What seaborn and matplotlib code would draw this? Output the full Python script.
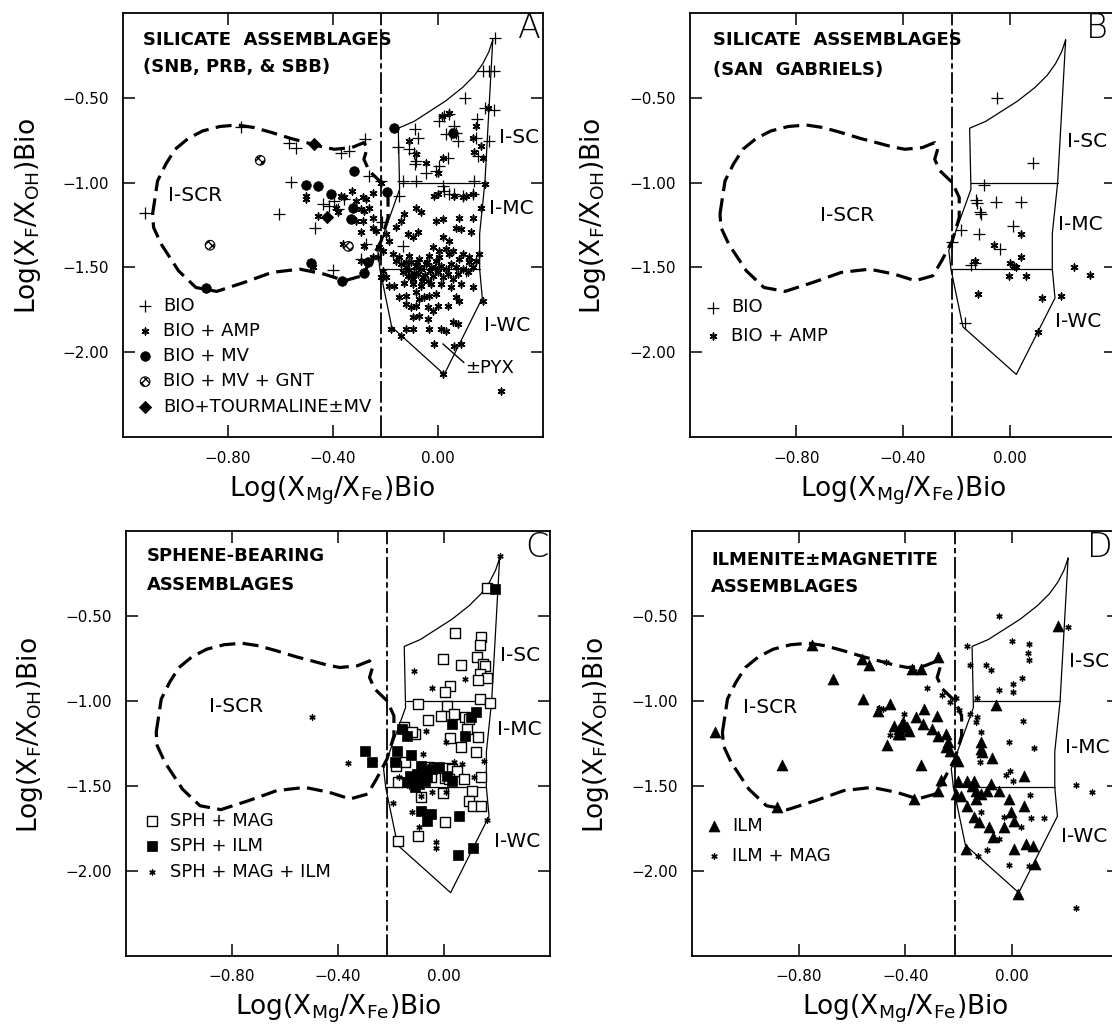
import matplotlib
matplotlib.use("Agg")
import matplotlib.pyplot as plt
import seaborn as sns
import numpy as np

sns.set_style("ticks")
plt.rcParams["font.family"] = ["DejaVu Sans"]
plt.rcParams["mathtext.fontset"] = "dejavusans"
plt.rcParams["text.color"] = "black"
plt.rcParams["axes.labelcolor"] = "black"
plt.rcParams["xtick.color"] = "black"
plt.rcParams["ytick.color"] = "black"

# ---------------- axes / tick data ----------------
x_ticks = [-0.80, -0.40, 0.00]
x_ticklabels = ["\u22120.80", "\u22120.40", "0.00"]
y_ticks = [-0.50, -1.00, -1.50, -2.00]
y_ticklabels = ["\u22120.50", "\u22121.00", "\u22121.50", "\u22122.00"]
x_label = r"Log(X$_{\mathregular{Mg}}$/X$_{\mathregular{Fe}}$)Bio"
y_label = r"Log(X$_{\mathregular{F}}$/X$_{\mathregular{OH}}$)Bio"

# ---------------- field boundaries ----------------
scr_x = [-1.086, -1.067, -1.035, -1.000, -0.950, -0.895, -0.830, -0.763, -0.700, -0.631, -0.560,
         -0.499, -0.440, -0.393, -0.327, -0.281, -0.268, -0.281, -0.261, -0.215, -0.189, -0.189,
         -0.215, -0.255, -0.288, -0.354, -0.433, -0.525, -0.631, -0.737, -0.842, -0.921, -0.987,
         -1.053, -1.082, -1.086]
scr_y = [-1.186, -0.990, -0.890, -0.804, -0.740, -0.696, -0.670, -0.661, -0.676, -0.706, -0.740,
         -0.765, -0.790, -0.804, -0.794, -0.765, -0.794, -0.863, -0.931, -1.000, -1.088, -1.206,
         -1.343, -1.461, -1.549, -1.578, -1.539, -1.510, -1.529, -1.588, -1.641, -1.618, -1.520,
         -1.363, -1.265, -1.186]

field_x = [0.210, 0.180, 0.160, 0.160, 0.170, 0.025, -0.175, -0.220, -0.228, -0.145, -0.150,
           -0.090, -0.030, 0.030, 0.095, 0.140, 0.172, 0.195, 0.210]
field_y = [-0.160, -1.000, -1.300, -1.510, -1.680, -2.130, -1.850, -1.510, -1.400, -1.040, -0.680,
           -0.640, -0.580, -0.520, -0.440, -0.370, -0.300, -0.230, -0.160]
div_mc_x = [-0.145, 0.180]
div_mc_y = [-1.000, -1.000]
div_wc_x = [-0.220, 0.160]
div_wc_y = [-1.510, -1.510]
divide_x = -0.215
pyx_x = [0.020, 0.100]
pyx_y = [-1.950, -2.060]

# ---------------- panel A data ----------------
A_bio = [(-1.114, -1.180), (-0.749, -0.671), (-0.568, -0.765), (-0.540, -0.794), (-0.368, -0.824),
         (-0.337, -0.814), (-0.276, -0.745), (-0.559, -0.994), (-0.606, -1.186), (-0.466, -1.265),
         (-0.438, -1.127), (-0.413, -1.137), (-0.394, -1.108), (-0.381, -1.157), (-0.356, -1.098),
         (-0.400, -1.516), (-0.260, -0.961), (-0.216, -0.990), (-0.213, -1.235), (-0.273, -1.363),
         (-0.292, -1.451), (0.220, -0.151), (0.171, -0.343), (0.197, -0.343), (0.216, -0.343),
         (0.105, -0.500), (0.182, -0.559), (0.216, -0.575), (0.006, -0.637), (0.025, -0.608),
         (0.044, -0.598), (0.150, -0.627), (0.051, -0.716), (0.070, -0.706), (0.063, -0.667),
         (0.076, -0.755), (0.032, -0.716), (0.146, -0.735), (0.197, -0.755), (-0.086, -0.686),
         (-0.076, -0.735), (-0.152, -0.790), (-0.108, -0.804), (-0.089, -0.824), (-0.083, -0.873),
         (-0.085, -0.892), (0.038, -0.853), (0.006, -0.902), (-0.006, -0.931), (-0.044, -0.941),
         (0.152, -0.843), (-0.133, -0.990), (-0.083, -0.990), (0.019, -1.020), (0.025, -1.050),
         (0.140, -0.990), (-0.149, -1.078), (0.044, -1.069), (0.063, -1.069), (0.095, -1.078),
         (0.133, -1.069), (-0.133, -1.373), (0.108, -1.520)]
A_amp = [(-0.368, -1.078), (-0.355, -1.088), (-0.326, -1.049), (-0.286, -1.088), (-0.273, -1.098),
         (-0.248, -1.059), (-0.311, -1.108), (-0.292, -1.157), (-0.279, -1.167), (-0.260, -1.147),
         (-0.457, -1.196), (-0.387, -1.147), (-0.381, -1.176), (-0.311, -1.225), (-0.286, -1.225),
         (-0.248, -1.206), (-0.292, -1.294), (-0.248, -1.265), (-0.235, -1.284), (-0.279, -1.372),
         (-0.222, -1.382), (-0.248, -1.441), (-0.229, -1.441), (-0.292, -1.461), (-0.501, -1.078),
         (-0.501, -1.098), (-0.476, -1.500), (-0.362, -1.363), (-0.216, -1.000), (-0.210, -1.520),
         (-0.210, -1.559),
         (0.016, -0.608), (0.044, -0.588), (0.191, -0.559), (0.146, -0.666), (0.133, -0.735),
         (0.165, -0.784), (0.172, -0.853), (-0.108, -0.755), (-0.045, -0.882), (0.019, -0.853),
         (0.000, -0.941), (0.140, -0.823), (-0.082, -0.833),
         (-0.013, -1.078), (0.000, -1.068), (0.063, -1.078), (0.095, -1.088), (0.108, -1.078),
         (0.133, -1.068), (-0.082, -1.147), (-0.063, -1.176), (-0.006, -1.225), (0.019, -1.216),
         (0.082, -1.206), (0.133, -1.206), (0.070, -1.265), (0.089, -1.274), (0.127, -1.294),
         (0.165, -1.147), (-0.140, -1.225), (-0.159, -1.264), (-0.127, -1.186), (-0.114, -1.304),
         (-0.095, -1.323), (-0.076, -1.294), (0.019, -1.323), (0.044, -1.343), (-0.019, -1.382),
         (0.006, -1.402), (0.032, -1.392), (0.057, -1.402), (0.095, -1.421), (0.121, -1.441),
         (0.146, -1.461), (-0.197, -1.304), (-0.184, -1.343), (-0.210, -1.402), (-0.171, -1.421),
         (0.181, -1.006), (0.156, -1.420),
         (-0.159, -1.461), (-0.140, -1.480), (-0.121, -1.500), (-0.102, -1.470), (-0.083, -1.490),
         (-0.064, -1.510), (-0.045, -1.480), (-0.026, -1.500), (-0.006, -1.461), (0.013, -1.490),
         (0.032, -1.510), (0.051, -1.480), (0.070, -1.500), (-0.133, -1.529), (-0.114, -1.549),
         (-0.095, -1.568), (-0.076, -1.539), (-0.057, -1.559), (-0.038, -1.578), (-0.019, -1.549),
         (0.000, -1.529), (0.019, -1.559), (0.038, -1.539), (0.057, -1.568), (0.076, -1.539),
         (0.095, -1.510), (0.114, -1.529), (0.133, -1.500), (-0.146, -1.441), (-0.108, -1.431),
         (-0.070, -1.451), (-0.032, -1.431), (0.006, -1.441), (0.044, -1.421), (0.082, -1.451),
         (0.120, -1.470), (-0.095, -1.598), (-0.064, -1.608), (-0.026, -1.598), (0.013, -1.598),
         (0.051, -1.617), (0.089, -1.598), (-0.110, -1.515), (-0.090, -1.530), (-0.070, -1.495),
         (-0.050, -1.545), (-0.100, -1.555), (-0.120, -1.470), (-0.080, -1.465), (-0.060, -1.580),
         (-0.030, -1.520), (-0.010, -1.505), (-0.130, -1.590), (-0.040, -1.465),
         (-0.216, -1.559), (-0.197, -1.559), (-0.184, -1.608), (-0.165, -1.608), (-0.146, -1.676),
         (-0.121, -1.666), (-0.083, -1.647), (-0.070, -1.686), (-0.051, -1.676), (-0.032, -1.666),
         (-0.006, -1.656), (-0.121, -1.716), (-0.102, -1.735), (-0.083, -1.725), (-0.038, -1.735),
         (-0.019, -1.755), (0.000, -1.725), (0.038, -1.725), (0.070, -1.676), (0.082, -1.696),
         (0.133, -1.617), (0.171, -1.696), (-0.095, -1.794), (-0.070, -1.784), (-0.038, -1.804),
         (-0.178, -1.862), (-0.121, -1.862), (-0.095, -1.862), (-0.032, -1.862), (0.013, -1.862),
         (0.032, -1.872), (0.057, -1.823), (0.076, -1.833), (-0.013, -1.951), (0.063, -1.960),
         (0.089, -1.951), (0.019, -2.127), (-0.140, -1.902), (0.241, -2.225)]
A_mv = [(-0.165, -0.676), (-0.320, -0.931), (-0.502, -1.014), (-0.455, -1.020), (-0.406, -1.069),
        (-0.324, -1.147), (-0.330, -1.216), (-0.194, -1.053), (-0.483, -1.471), (-0.366, -1.578),
        (-0.279, -1.535), (-0.267, -1.465), (-0.883, -1.622), (0.060, -0.706)]
A_gnt = [(-0.676, -0.869), (-0.867, -1.369), (-0.340, -1.376)]
A_tour = [(-0.470, -0.775), (-0.422, -1.202)]

# ---------------- panel B data ----------------
B_bio = [(-0.046, -0.504), (0.088, -0.886), (-0.096, -1.016), (-0.125, -1.102), (-0.123, -1.118),
         (-0.053, -1.114), (0.042, -1.114), (-0.110, -1.176), (-0.106, -1.186), (0.013, -1.255),
         (-0.182, -1.280), (-0.116, -1.304), (-0.037, -1.392), (-0.215, -1.353), (-0.143, -1.484),
         (-0.129, -1.471), (-0.169, -1.829)]
B_amp = [(0.042, -1.304), (-0.057, -1.369), (0.042, -1.441), (0.000, -1.471), (0.016, -1.490),
         (0.022, -1.496), (-0.004, -1.549), (0.062, -1.549), (-0.120, -1.657), (0.121, -1.682),
         (0.194, -1.667), (0.106, -1.878), (0.240, -1.500), (0.300, -1.543), (-0.129, -1.461)]

# ---------------- panel C data ----------------
C_mag = [(0.163, -0.337), (0.041, -0.598), (0.138, -0.627), (0.135, -0.673), (-0.003, -0.755),
         (0.066, -0.789), (0.125, -0.741), (0.147, -0.784), (0.154, -0.794), (0.134, -0.843),
         (0.163, -0.863), (0.128, -0.878), (0.021, -0.912), (0.003, -0.947), (0.135, -0.990),
         (0.172, -1.016), (-0.098, -1.020), (0.013, -1.029), (-0.013, -1.088), (-0.059, -1.112),
         (0.038, -1.075), (0.081, -1.094), (0.096, -1.108), (0.088, -1.167), (0.128, -1.216),
         (0.021, -1.221), (0.066, -1.275), (0.119, -1.300), (-0.109, -1.196), (-0.147, -1.363),
         (-0.056, -1.392), (-0.038, -1.398), (0.016, -1.396), (0.031, -1.402), (0.050, -1.412),
         (-0.125, -1.461), (-0.048, -1.451), (0.003, -1.457), (0.019, -1.461), (0.075, -1.463),
         (0.140, -1.451), (0.104, -1.529), (-0.003, -1.543), (-0.088, -1.569), (0.096, -1.588),
         (0.109, -1.621), (0.138, -1.621), (0.004, -1.716), (-0.098, -1.794), (-0.172, -1.824),
         (-0.150, -1.157), (-0.119, -1.186), (-0.182, -1.382), (-0.175, -1.480)]
C_ilm = [(0.194, -0.339), (0.119, -1.069), (0.103, -1.098), (0.031, -1.137), (0.079, -1.206),
         (-0.157, -1.167), (-0.138, -1.206), (-0.178, -1.294), (-0.185, -1.363), (-0.125, -1.320),
         (-0.298, -1.294), (-0.272, -1.363), (-0.088, -1.382), (-0.075, -1.412), (-0.084, -1.441),
         (-0.113, -1.471), (-0.094, -1.490), (-0.063, -1.451), (-0.044, -1.402), (-0.019, -1.392),
         (0.013, -1.441), (0.031, -1.471), (-0.088, -1.647), (-0.050, -1.667), (-0.063, -1.706),
         (0.056, -1.676), (0.109, -1.869), (0.054, -1.908), (-0.138, -1.480), (-0.100, -1.430),
         (-0.070, -1.470), (-0.110, -1.510), (-0.130, -1.440)]
C_both = [(0.211, -0.147), (-0.113, -0.824), (0.081, -0.873), (-0.044, -0.927), (-0.497, -1.098),
          (-0.363, -1.369), (-0.069, -1.180), (0.009, -1.245), (0.150, -1.353), (0.113, -1.451),
          (-0.194, -1.602), (-0.119, -1.653), (0.163, -1.700), (-0.031, -1.829), (-0.031, -1.869),
          (-0.169, -1.451), (-0.132, -1.500), (0.069, -1.373), (-0.044, -1.539), (-0.088, -1.559),
          (0.006, -1.539), (0.038, -1.363), (-0.096, -1.745), (-0.079, -1.314)]

# ---------------- panel D data ----------------
D_ilm = [(-1.112, -1.186), (-0.880, -1.627), (-0.750, -0.673), (-0.671, -0.869), (-0.863, -1.376),
         (-0.564, -0.755), (-0.537, -0.788), (-0.558, -0.990), (-0.504, -1.063), (-0.457, -1.020),
         (-0.468, -1.261), (-0.375, -0.810), (-0.342, -0.810), (-0.279, -0.745), (-0.342, -1.376),
         (-0.368, -1.578), (-0.278, -1.529), (-0.268, -1.467), (-0.441, -1.147), (-0.424, -1.167),
         (-0.408, -1.127), (-0.395, -1.157), (-0.428, -1.196), (-0.388, -1.176), (-0.362, -1.098),
         (-0.335, -1.137), (-0.329, -1.049), (-0.302, -1.167), (-0.282, -1.088), (-0.279, -1.206),
         (-0.249, -1.196), (-0.242, -1.245), (-0.249, -1.275), (-0.231, -1.294), (-0.209, -1.343),
         (-0.202, -1.353), (-0.414, -1.137), (-0.420, -1.196),
         (0.172, -0.559), (-0.061, -1.025), (-0.115, -1.245), (-0.115, -1.284), (-0.111, -1.304),
         (-0.074, -1.339), (-0.203, -1.471), (-0.168, -1.471), (-0.143, -1.471), (-0.149, -1.500),
         (-0.137, -1.529), (-0.118, -1.549), (-0.093, -1.529), (-0.080, -1.490), (-0.049, -1.529),
         (-0.212, -1.549), (-0.193, -1.559), (-0.168, -1.618), (-0.137, -1.578), (-0.011, -1.578),
         (0.046, -1.441), (0.046, -1.618), (-0.143, -1.686), (-0.124, -1.716), (-0.086, -1.745),
         (-0.070, -1.804), (-0.030, -1.745), (-0.005, -1.657), (0.008, -1.706), (0.008, -1.873),
         (0.052, -1.843), (0.077, -1.853), (0.086, -1.961), (-0.174, -1.873), (0.021, -2.137)]
D_mag = [(-0.048, -0.500), (-0.168, -0.676), (-0.001, -0.647), (0.062, -0.663), (0.058, -0.720),
         (0.065, -0.761), (-0.156, -0.788), (-0.099, -0.790), (-0.078, -0.820), (0.037, -0.863),
         (0.002, -0.902), (0.002, -0.951), (-0.048, -0.937), (-0.130, -0.984), (-0.156, -1.078),
         (-0.130, -1.098), (-0.137, -1.127), (0.040, -1.118), (-0.013, -1.241), (0.081, -1.278),
         (-0.118, -1.186), (-0.120, -1.363), (-0.023, -1.435), (-0.008, -1.412), (0.002, -1.471),
         (0.067, -1.555), (0.071, -1.692), (0.119, -1.692), (-0.118, -1.657), (-0.030, -1.686),
         (0.033, -1.745), (-0.093, -1.878), (-0.127, -1.912), (-0.011, -1.965), (0.065, -1.971),
         (-0.048, -1.814), (-0.473, -0.771), (-0.367, -0.822), (-0.319, -0.927), (-0.263, -0.967),
         (-0.231, -1.006), (-0.212, -0.982), (-0.199, -1.055), (-0.498, -1.045), (-0.483, -1.049),
         (-0.407, -1.078), (-0.458, -1.202), (0.210, -0.565), (0.239, -1.496), (0.300, -1.535),
         (0.239, -2.220)]

# ---------------- styles ----------------
PLUS = dict(marker="+", s=75, color="black", linewidth=0.9)
STAR = dict(marker=(6, 2, 0), s=24, color="black", linewidth=1.1)
SMALLSTAR = dict(marker=(6, 2, 0), s=14, color="black", linewidth=1.0)
CIRC = dict(marker="o", s=48, color="black", edgecolor="black", linewidth=0.5)
GNT = dict(marker="o", s=48, color="white", edgecolor="black", hatch="xxxx", linewidth=0.8)
DIAM = dict(marker="D", s=40, color="black", edgecolor="black", linewidth=0.5)
SQ_OPEN = dict(marker="s", s=50, color="white", edgecolor="black", linewidth=1.0)
SQ_FILL = dict(marker="s", s=50, color="black", edgecolor="black", linewidth=0.5)
TRI = dict(marker="^", s=62, color="black", edgecolor="black", linewidth=0.5)

fig = plt.figure(figsize=(11.12, 10.26), dpi=100)
axA = fig.add_axes([0.1103, 0.5738, 0.3777, 0.4138])
axB = fig.add_axes([0.6201, 0.5738, 0.3838, 0.4138])
axC = fig.add_axes([0.1133, 0.0687, 0.3813, 0.4138])
axD = fig.add_axes([0.6223, 0.0687, 0.3838, 0.4138])


def scatter(ax, pairs, label, style):
    arr = np.array(pairs, dtype=float)
    sns.scatterplot(x=arr[:, 0], y=arr[:, 1], ax=ax, label=label, legend=False, zorder=3, **style)


def setup(ax, letter, letter_x, title1, title2, tpos, labels):
    ax.set_xlim(-1.2, 0.4)
    ax.set_ylim(-2.5, 0.0)
    ax.set_xticks(x_ticks)
    ax.set_xticklabels(x_ticklabels)
    ax.set_yticks(y_ticks)
    ax.set_yticklabels(y_ticklabels)
    ax.tick_params(direction="in", length=8.5, width=1.1, top=True, right=True,
                   labelsize=11, pad=10, color="black", labelcolor="black")
    for sp in ax.spines.values():
        sp.set_visible(True)
        sp.set_linewidth(1.3)
        sp.set_color("black")
    ax.set_xlabel(x_label, fontsize=19, color="black")
    ax.set_ylabel(y_label, fontsize=19, color="black")
    ax.xaxis.set_label_coords(0.5, -0.088)
    ax.yaxis.set_label_coords(-0.19, 0.52)
    # boundaries
    ax.plot(scr_x, scr_y, color="black", lw=2.3, linestyle=(0, (5, 2.3)), zorder=2)
    ax.plot(field_x, field_y, color="black", lw=0.9, zorder=2)
    ax.plot(div_mc_x, div_mc_y, color="black", lw=0.9, zorder=2)
    ax.plot(div_wc_x, div_wc_y, color="black", lw=0.9, zorder=2)
    ax.axvline(divide_x, color="black", lw=1.3, linestyle=(0, (12, 2, 3, 2)), zorder=2)
    # texts
    ax.text(letter_x, 0.962, letter, transform=ax.transAxes, fontsize=24, ha="center",
            va="center", fontweight="light", color="black")
    ax.text(tpos[0], tpos[1], title1, transform=ax.transAxes, fontsize=13, fontweight="bold",
            ha="left", va="center", color="black")
    ax.text(tpos[0], tpos[2], title2, transform=ax.transAxes, fontsize=13, fontweight="bold",
            ha="left", va="center", color="black")
    for (txt, x, y, ha) in labels:
        ax.text(x, y, txt, fontsize=14.5, ha=ha, va="center", color="black")


def legend(ax, x0, y0, spacing):
    ax.legend(loc="upper left", bbox_to_anchor=(x0, y0), frameon=False, fontsize=13,
              borderpad=0, borderaxespad=0, handlelength=1.0, handletextpad=0.5,
              labelspacing=spacing, labelcolor="black")


# Panel A
setup(axA, "A", 0.968, "SILICATE  ASSEMBLAGES", "(SNB, PRB, & SBB)", (0.048, 0.936, 0.871),
      [("I-SCR", -0.925, -1.075, "center"), ("I-SC", 0.232, -0.735, "left"),
       ("I-MC", 0.195, -1.155, "left"), ("I-WC", 0.176, -1.843, "left")])
scatter(axA, A_bio, "BIO", PLUS)
scatter(axA, A_amp, "BIO + AMP", STAR)
scatter(axA, A_mv, "BIO + MV", CIRC)
scatter(axA, A_gnt, "BIO + MV + GNT", GNT)
scatter(axA, A_tour, "BIO+TOURMALINE\u00b1MV", DIAM)
axA.plot(pyx_x, pyx_y, color="black", lw=1.0)
axA.text(0.105, -2.09, "\u00b1PYX", fontsize=13, ha="left", va="center", color="black")
legend(axA, 0.032, 0.331, 0.40)

# Panel B
setup(axB, "B", 0.955, "SILICATE  ASSEMBLAGES", "(SAN  GABRIELS)", (0.055, 0.935, 0.865),
      [("I-SCR", -0.609, -1.196, "center"), ("I-SC", 0.215, -0.759, "left"),
       ("I-MC", 0.183, -1.249, "left"), ("I-WC", 0.170, -1.818, "left")])
scatter(axB, B_bio, "BIO", PLUS)
scatter(axB, B_amp, "BIO + AMP", STAR)
legend(axB, 0.034, 0.327, 0.59)

# Panel C
setup(axC, "C", 0.968, "SPHENE-BEARING", "ASSEMBLAGES", (0.049, 0.940, 0.873),
      [("I-SCR", -0.783, -1.033, "center"), ("I-SC", 0.213, -0.735, "left"),
       ("I-MC", 0.199, -1.167, "left"), ("I-WC", 0.188, -1.829, "left")])
scatter(axC, C_mag, "SPH + MAG", SQ_OPEN)
scatter(axC, C_ilm, "SPH + ILM", SQ_FILL)
scatter(axC, C_both, "SPH + MAG + ILM", SMALLSTAR)
legend(axC, 0.039, 0.339, 0.42)

# Panel D
setup(axD, "D", 0.955, "ILMENITE\u00b1MAGNETITE", "ASSEMBLAGES", (0.045, 0.932, 0.867),
      [("I-SCR", -0.906, -1.039, "center"), ("I-SC", 0.212, -0.769, "left"),
       ("I-MC", 0.200, -1.275, "left"), ("I-WC", 0.185, -1.798, "left")])
scatter(axD, D_ilm, "ILM", TRI)
scatter(axD, D_mag, "ILM + MAG", SMALLSTAR)
legend(axD, 0.030, 0.326, 0.64)

fig.savefig("out.png", dpi=100, facecolor="white")
